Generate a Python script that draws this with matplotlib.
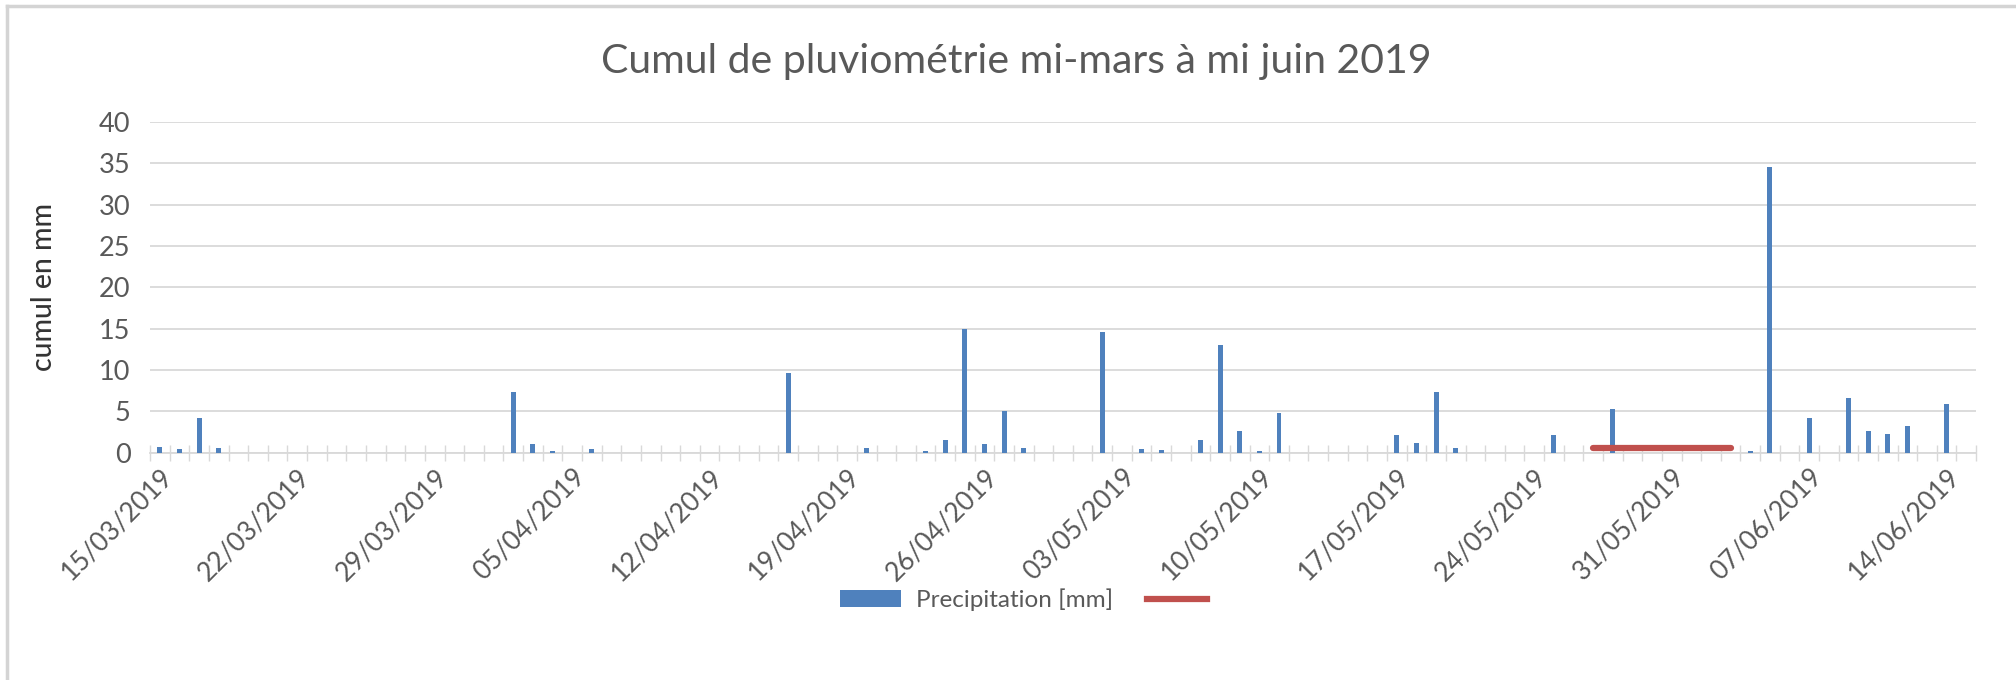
import datetime as dt

import matplotlib
matplotlib.use("Agg")
import matplotlib.pyplot as plt
import matplotlib.dates as mdates
from matplotlib.lines import Line2D
from matplotlib.patches import Patch

# rainy days (day/month 2019) and daily precipitation in mm
rain_dates = [
    "15/03", "16/03", "17/03", "18/03",
    "02/04", "03/04", "04/04", "06/04",
    "16/04", "20/04", "23/04", "24/04", "25/04", "26/04", "27/04", "28/04",
    "02/05", "04/05", "05/05", "07/05", "08/05", "09/05", "10/05", "11/05",
    "17/05", "18/05", "19/05", "20/05",
    "25/05", "28/05", "04/06", "05/06", "07/06", "09/06", "10/06", "11/06",
    "12/06", "14/06",
]
rain_mm = [
    0.7, 0.5, 4.2, 0.6,
    7.3, 1.1, 0.2, 0.5,
    9.7, 0.6, 0.2, 1.5, 15.0, 1.1, 5.1, 0.6,
    14.6, 0.5, 0.4, 1.6, 13.0, 2.7, 0.2, 4.8,
    2.1, 1.2, 7.4, 0.6,
    2.2, 5.3, 0.2, 34.5, 4.2, 6.6, 2.6, 2.3,
    3.3, 5.9,
]

# second series (red line, no name)
line_dates = ["27/05", "03/06"]
line_mm = [0.6, 0.6]

start_date = "15/03"
end_date = "15/06"
tick_dates = ["15/03", "22/03", "29/03", "05/04", "12/04", "19/04", "26/04",
              "03/05", "10/05", "17/05", "24/05", "31/05", "07/06", "14/06"]


def to_date(s):
    d, m = s.split("/")
    return dt.datetime(2019, int(m), int(d))


def main():
    plt.rcParams["font.family"] = ["Lato", "DejaVu Sans"]

    fig = plt.figure(figsize=(20.16, 6.8), dpi=100)
    ax = fig.add_axes([0.0744, 0.334, 0.9058, 0.487])

    x = [to_date(s) for s in rain_dates]
    ax.bar(x, rain_mm, width=0.25, color="#4F81BD", zorder=3)
    ax.plot([to_date(s) for s in line_dates], line_mm, color="#C0504D",
            linewidth=4.5, solid_capstyle="round", zorder=4)

    ax.set_ylim(0, 40)
    ax.set_yticks(range(0, 41, 5))
    half = dt.timedelta(hours=12)
    ax.set_xlim(to_date(start_date) - half, to_date(end_date) + half)

    ax.set_xticks([to_date(s) for s in tick_dates])
    ax.xaxis.set_major_formatter(mdates.DateFormatter("%d/%m/%Y"))
    ax.tick_params(axis="x", which="major", length=0, pad=8,
                   labelsize=19, labelcolor="#595959")
    plt.setp(ax.get_xticklabels(), rotation=45, ha="right",
             rotation_mode="anchor")
    # Excel-like day tick marks crossing the category axis
    ax.set_xticks([to_date(start_date) - half + dt.timedelta(days=k)
                   for k in range(0, 94)], minor=True)
    ax.tick_params(axis="x", which="minor", direction="inout", length=12,
                   width=1, color="#d9d9d9")
    ax.tick_params(axis="y", length=0, pad=14, labelsize=19.5,
                   labelcolor="#595959")

    ax.grid(axis="y", color="#d9d9d9", linewidth=1.3, zorder=0)
    for side in ["top", "right", "left"]:
        ax.spines[side].set_visible(False)
    ax.spines["bottom"].set_color("#d9d9d9")
    ax.spines["bottom"].set_linewidth(1.3)

    ax.set_ylabel("cumul en mm", fontsize=20.5, color="#333333",
                  fontweight="medium", labelpad=30)

    fig.text(0.504, 0.91, "Cumul de pluviométrie mi-mars à mi juin 2019",
             ha="center", va="center", fontsize=29.5, color="#595959")

    handles = [
        Patch(facecolor="#4F81BD", edgecolor="none"),
        Line2D([0], [0], color="#C0504D", linewidth=4.5),
    ]
    fig.legend(handles, ["Precipitation [mm]", " "], loc="center",
               bbox_to_anchor=(0.513, 0.118), ncol=2, frameon=False,
               fontsize=17.5, labelcolor="#595959", handlelength=2.5,
               handleheight=0.7, handletextpad=0.6, columnspacing=1.4)

    # chart area frame (left and top edges visible in the original)
    fig.add_artist(Line2D([0.0035, 0.0035], [0, 0.991], color="#d4d4d4",
                          linewidth=2.5, transform=fig.transFigure))
    fig.add_artist(Line2D([0.0035, 1.0], [0.991, 0.991], color="#d4d4d4",
                          linewidth=2.5, transform=fig.transFigure))

    fig.savefig("out.png", dpi=100, facecolor="white")


if __name__ == "__main__":
    main()
